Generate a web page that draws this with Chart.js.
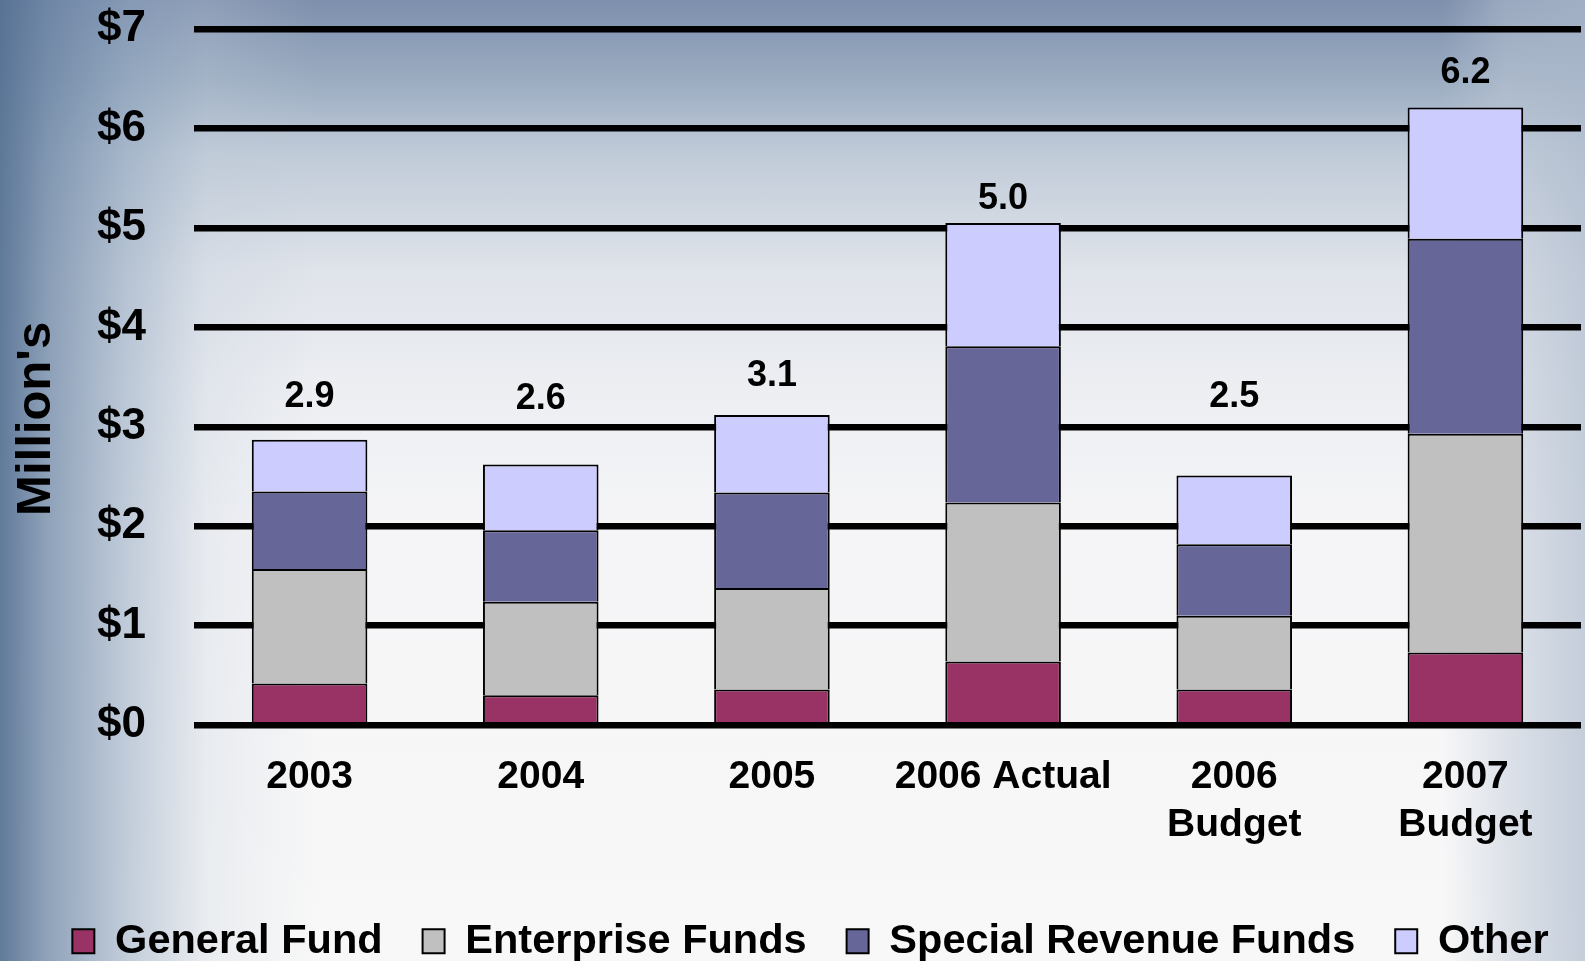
<!DOCTYPE html>
<html>
<head>
<meta charset="utf-8">
<script src="https://cdn.jsdelivr.net/npm/chart.js@4"></script>
<style>
html, body { margin: 0; padding: 0; }
body {
  width: 1585px; height: 961px; overflow: hidden;
  background:
    linear-gradient(to right, rgba(84,112,146,0.92) 0%, rgba(104,130,162,0.72) 3%, rgba(140,162,188,0.5) 8%, rgba(190,202,216,0.25) 13%, rgba(255,255,255,0) 20%, rgba(255,255,255,0) 91%, rgba(190,200,215,0.45) 95%, rgba(175,188,206,0.7) 100%),
    linear-gradient(to bottom, #7e8fad 0%, #9aabc0 8%, #c0cbd8 16%, #dfe3ea 28%, #eceef2 40%, #f5f5f7 55%, #f8f8f8 100%);
}
#wrap { position: relative; width: 1585px; height: 961px; }
</style>
</head>
<body>
<div id="wrap"><canvas id="c" width="1585" height="961"></canvas></div>
<script>
// ---- data ----
const categories = ["2003", "2004", "2005", "2006 Actual", ["2006", "Budget"], ["2007", "Budget"]];
const generalFund = [0.42, 0.30, 0.36, 0.64, 0.36, 0.73];
const enterpriseFunds = [1.15, 0.94, 1.02, 1.60, 0.74, 2.20];
const specialRevenueFunds = [0.78, 0.72, 0.96, 1.57, 0.72, 1.96];
const otherFunds = [0.52, 0.66, 0.78, 1.24, 0.69, 1.32];
const totals = [2.9, 2.6, 3.1, 5.0, 2.5, 6.2];
const seriesNames = ["General Fund", "Enterprise Funds", "Special Revenue Funds", "Other"];
const yTickValues = [0, 1, 2, 3, 4, 5, 6, 7];

const FONT = '"Liberation Sans", Arial, Helvetica, sans-serif';
Chart.defaults.font.family = FONT;
Chart.defaults.font.weight = 'bold';
Chart.defaults.color = '#000';

const totalLabelsPlugin = {
  id: 'totalLabels',
  afterDatasetsDraw(chart, args, opts) {
    const { ctx, scales: { x, y } } = chart;
    ctx.save();
    ctx.font = 'bold 36px ' + FONT;
    ctx.fillStyle = '#000';
    ctx.textAlign = 'center';
    ctx.textBaseline = 'middle';
    totals.forEach((t, i) => {
      ctx.fillText(t.toFixed(1), x.getPixelForValue(i), y.getPixelForValue(opts.levels[i]));
    });
    ctx.restore();
  }
};

const yTitlePlugin = {
  id: 'yTitle',
  afterDraw(chart, args, opts) {
    const { ctx, scales: { y } } = chart;
    ctx.save();
    ctx.font = 'bold 49px ' + FONT;
    ctx.fillStyle = '#000';
    ctx.textAlign = 'center';
    ctx.textBaseline = 'middle';
    ctx.translate(opts.x, y.getPixelForValue(opts.at));
    ctx.rotate(-Math.PI / 2);
    ctx.fillText(opts.text, 0, 0);
    ctx.restore();
  }
};

const legendShiftPlugin = {
  id: 'legendShift',
  afterLayout(chart, args, opts) {
    const l = chart.legend;
    l.left += opts.dx; l.right += opts.dr;
    l.top += opts.dy; l.bottom += opts.dy;
  }
};

const colors = ['#993366', '#C0C0C0', '#666699', '#CCCCFF'];
const seriesData = [generalFund, enterpriseFunds, specialRevenueFunds, otherFunds];

new Chart(document.getElementById('c'), {
  type: 'bar',
  data: {
    labels: categories,
    datasets: seriesData.map((d, i) => ({
      label: seriesNames[i],
      data: d,
      backgroundColor: colors[i],
      borderColor: '#000',
      borderWidth: 2,
      borderSkipped: 'start',
      categoryPercentage: 1.0,
      barPercentage: 0.5
    }))
  },
  options: {
    responsive: false,
    animation: false,
    layout: { padding: { top: 29, right: 4, left: 0, bottom: 0 } },
    plugins: {
      tooltip: { enabled: false },
      legend: {
        position: 'bottom',
        labels: {
          font: { size: 41.5, weight: 'bold' },
          color: '#000',
          boxWidth: 22,
          boxHeight: 24,
          padding: 40
        }
      },
      totalLabels: { levels: [3.30, 3.28, 3.51, 5.29, 3.30, 6.56] },
      yTitle: { text: "Million's", x: 36, at: 3.08 },
      legendShift: { dx: 19, dr: 21, dy: 11 }
    },
    scales: {
      x: {
        stacked: true,
        grid: { display: false, drawTicks: false },
        border: { display: false },
        ticks: { font: { size: 39, weight: 'bold', lineHeight: 1.24 }, color: '#000', padding: 28, maxRotation: 0, autoSkip: false },
        afterFit(scale) { scale.height = 144.3; }
      },
      y: {
        stacked: true,
        min: 0,
        max: 7,
        afterBuildTicks(scale) { scale.ticks = yTickValues.map(v => ({ value: v })); },
        grid: { color: '#000', lineWidth: 6.5, drawTicks: false },
        border: { display: false },
        ticks: {
          font: { size: 44, weight: 'bold' },
          color: '#000',
          padding: 48,
          callback: v => '$' + v
        },
        afterFit(scale) { scale.width = 194; scale.paddingTop = 0; scale.paddingBottom = 0; }
      }
    }
  },
  plugins: [totalLabelsPlugin, yTitlePlugin, legendShiftPlugin]
});
</script>
</body>
</html>
